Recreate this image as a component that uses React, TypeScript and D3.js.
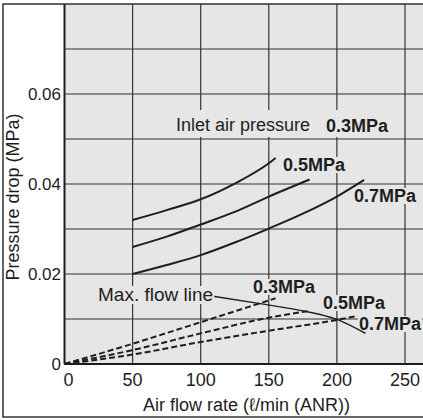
import * as d3 from "d3";

// flow rate (l/min ANR) vs pressure drop (MPa)
const xTicks = [0, 50, 100, 150, 200, 250];
const yGrid = [0.01, 0.02, 0.03, 0.04, 0.05, 0.06, 0.07];
const yTickLabels = [0, 0.02, 0.04, 0.06];

const drop03: [number, number][] = [[50, 0.032], [75, 0.0342], [100, 0.0366], [125, 0.0401], [150, 0.0446], [155, 0.0458]];
const drop05: [number, number][] = [[50, 0.026], [75, 0.0283], [100, 0.031], [125, 0.0338], [150, 0.0372], [180, 0.041]];
const drop07: [number, number][] = [[50, 0.02], [75, 0.022], [100, 0.0242], [125, 0.027], [150, 0.0301], [175, 0.0334], [200, 0.0372], [220, 0.0409]];

const maxFlow03: [number, number][] = [[0, 0], [50, 0.0045], [100, 0.0093], [155, 0.0146]];
const maxFlow05: [number, number][] = [[0, 0], [50, 0.0031], [100, 0.0068], [150, 0.0103], [180, 0.0118]];
const maxFlow07: [number, number][] = [[0, 0], [50, 0.0021], [100, 0.0049], [150, 0.0074], [200, 0.0098], [215, 0.0107]];

const maxFlowLine: [number, number][] = [[110, 0.015], [146, 0.0133], [175, 0.0118], [200, 0.0099], [221, 0.0068]];

const FONT = "'Liberation Sans', Arial, Helvetica, sans-serif";
const INK = "#1e1e1e";
const BG = "#e6e6e6";

const W = 423;
const H = 420;

export default function App() {
  const x = d3.scaleLinear().domain([0, 250]).range([64.5, 405]);
  const y = d3.scaleLinear().domain([0, 0.08]).range([364, 4]);
  const line = d3
    .line<[number, number]>()
    .x(d => x(d[0]))
    .y(d => y(d[1]))
    .curve(d3.curveMonotoneX);

  const labels = [
    { t: "0.5MPa", x: 283, y: 171 },
    { t: "0.7MPa", x: 354, y: 202 },
    { t: "0.3MPa", x: 253, y: 293 },
    { t: "0.5MPa", x: 323, y: 309 },
    { t: "0.7MPa", x: 359, y: 330 },
  ];

  return (
    <svg width={W} height={H} style={{ position: "absolute", left: 0, top: 0, background: "#fff" }}>
      <rect x={x(0)} y={y(0.08)} width={W - x(0)} height={y(0) - y(0.08)} fill={BG} />

      {/* grid */}
      {yGrid.map(v => (
        <line key={"h" + v} x1={x(0)} x2={W} y1={y(v)} y2={y(v)} stroke="#333" strokeWidth={1.2} />
      ))}
      {xTicks.slice(1).map(v => (
        <line key={"v" + v} x1={x(v)} x2={x(v)} y1={y(0.08)} y2={y(0)} stroke="#333" strokeWidth={1.2} />
      ))}

      {/* knockouts behind labels */}
      <rect x={172} y={110} width={222} height={27} fill={BG} />
      {labels.map((l, i) => (
        <rect key={"k" + i} x={l.x - 1} y={l.y - 14} width={64} height={16} fill={BG} />
      ))}
      <rect x={96} y={286} width={115} height={18} fill={BG} />

      {/* axes + frame */}
      <line x1={x(0)} x2={x(0)} y1={y(0.08)} y2={y(0)} stroke={INK} strokeWidth={2} />
      <line x1={x(0)} x2={W} y1={y(0)} y2={y(0)} stroke={INK} strokeWidth={2} />
      <rect x={3} y={4} width={W + 10} height={413} fill="none" stroke="#333" strokeWidth={1.5} />

      {/* pressure drop curves */}
      {[drop03, drop05, drop07].map((d, i) => (
        <path key={"s" + i} d={line(d) ?? ""} fill="none" stroke={INK} strokeWidth={2} />
      ))}
      {[maxFlow03, maxFlow05, maxFlow07].map((d, i) => (
        <path key={"d" + i} d={line(d) ?? ""} fill="none" stroke={INK} strokeWidth={2} strokeDasharray="6,3" />
      ))}
      <path d={line(maxFlowLine) ?? ""} fill="none" stroke={INK} strokeWidth={1.4} />

      {/* tick labels */}
      {xTicks.map(v => (
        <text key={"xt" + v} x={x(v) + (v === 0 ? 4 : 0)} y={386} textAnchor="middle" fontFamily={FONT} fontSize={18} fill={INK}>
          {v}
        </text>
      ))}
      {yTickLabels.map(v => (
        <text key={"yt" + v} x={61} y={y(v)} dy="0.36em" textAnchor="end" fontFamily={FONT} fontSize={17} fill={INK}>
          {v === 0 ? "0" : v.toFixed(2)}
        </text>
      ))}

      {/* axis titles */}
      <text x={246.5} y={411} textAnchor="middle" fontFamily={FONT} fontSize={18} fill={INK}>
        Air flow rate (ℓ/min (ANR))
      </text>
      <text transform="translate(19,197) rotate(-90)" textAnchor="middle" fontFamily={FONT} fontSize={18} fill={INK}>
        Pressure drop (MPa)
      </text>

      {/* annotations */}
      <text x={176} y={131} fontFamily={FONT} fontSize={18} fill={INK}>Inlet air pressure</text>
      <text x={326} y={132} fontFamily={FONT} fontSize={18} fontWeight="bold" fill={INK}>0.3MPa</text>
      {labels.map((l, i) => (
        <text key={"l" + i} x={l.x} y={l.y} fontFamily={FONT} fontSize={18} fontWeight="bold" fill={INK}>
          {l.t}
        </text>
      ))}
      <text x={98} y={301} fontFamily={FONT} fontSize={19} fill={INK}>Max. flow line</text>
    </svg>
  );
}
